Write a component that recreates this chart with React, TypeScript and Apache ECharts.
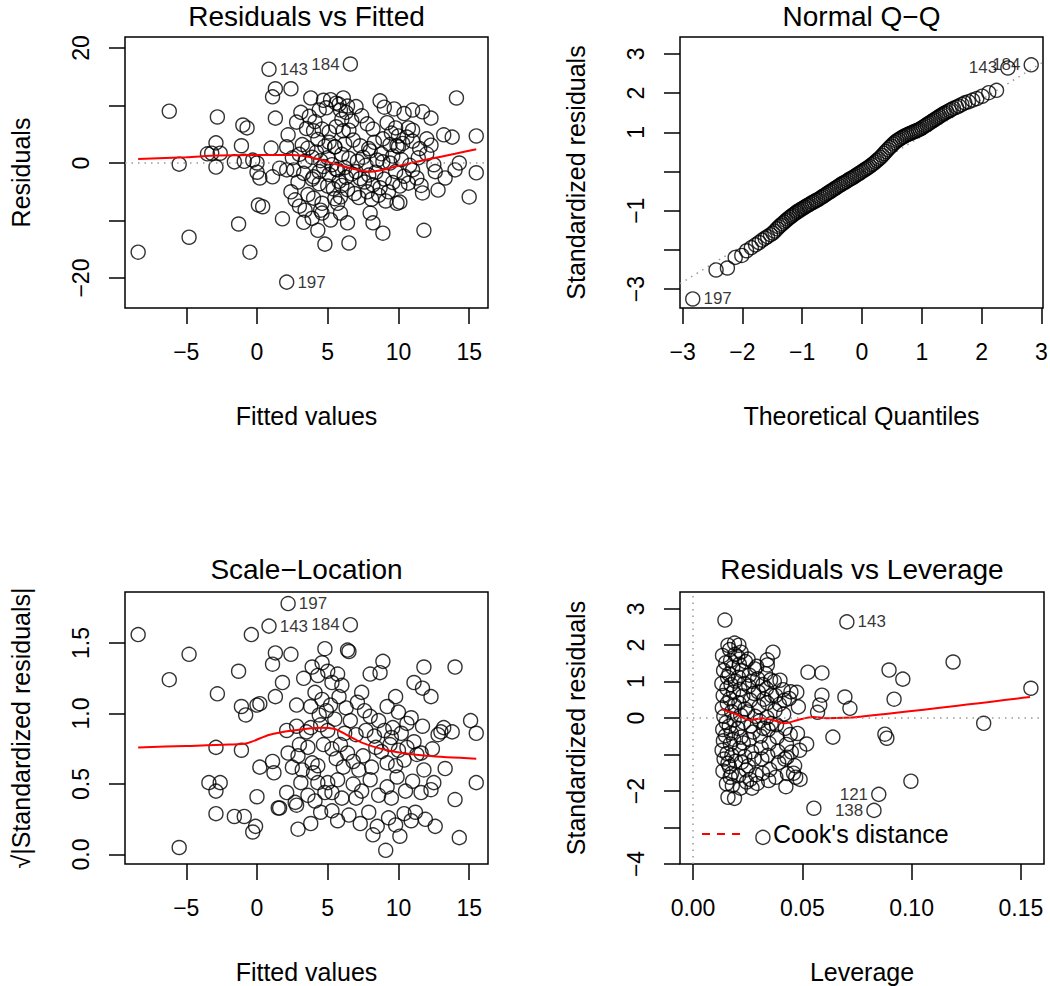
import { useEffect, useRef } from 'react';
import * as echarts from 'echarts';

const FONT = '"Liberation Sans", Arial, Helvetica, sans-serif';

// ---------- Panel 1: Residuals vs Fitted ----------
const rvfXTicks = [-5, 0, 5, 10, 15];
const rvfYTicks = [-20, -10, 0, 10, 20];
const rvfYLabels = [-20, 0, 20];
const rvfPoints: number[][] = [
  [-8.4, -15.5], [-6.2, 9.0], [-5.5, -0.2], [-4.8, -12.9], [-2.8, 8.0], [-2.9, 3.5], [-3.2, 1.7], [-2.6, 1.7], [-3.5, 1.6], [-2.9, -0.7],
  [-1.0, 6.6], [-0.7, 6.1], [-1.1, 3.0], [-1.6, 0.2], [-0.9, 0.3], [-0.3, 0.5], [0.0, 0.0], [0.0, -1.6], [0.2, -2.6], [0.1, -7.3],
  [0.4, -7.6], [-1.3, -10.6], [-0.5, -15.5],
  [1.3, 12.9], [1.1, 11.5], [2.4, 12.9], [1.3, 7.8], [2.8, 7.1], [2.2, 4.9], [2.1, 2.8], [1.0, 2.6], [1.6, -0.9], [2.1, -1.2], [2.6, -1.2],
  [1.1, -2.4], [2.9, -3.3], [1.8, -9.7], [3.3, -10.3], [3.4, -8.2],
  [3.8, 11.3], [4.7, 10.9], [5.2, 11.0], [5.6, 10.4], [4.9, 9.6], [5.9, 9.2], [6.3, 8.8], [4.4, 9.2], [3.5, 6.0], [4.0, 5.6], [4.6, 5.9],
  [5.1, 5.4], [5.6, 6.3], [6.1, 5.6], [4.3, 4.1], [3.2, 3.2], [3.6, 2.6], [4.2, 1.9], [4.8, 2.9], [5.1, 3.6], [5.5, 2.8], [3.0, 1.5],
  [3.9, 1.0], [4.5, 0.4], [5.0, 0.9], [4.7, -0.6], [5.3, -0.3], [3.3, -1.8], [4.0, -2.4], [3.9, -2.8], [4.4, -1.5], [5.1, -2.0], [5.6, -1.1],
  [3.6, -5.5], [4.6, -7.0], [4.5, -8.2], [4.6, -8.7], [4.3, -11.7], [4.8, -14.1], [5.2, -9.9], [5.4, -4.5], [5.0, -4.0], [4.4, -3.6],
  [5.8, -3.2], [5.5, -6.2],
  [8.7, 10.8], [14.1, 11.3], [11.0, 9.2], [11.7, 8.9], [12.3, 7.8], [7.4, 8.2], [8.2, 5.9], [6.5, 5.7], [6.8, 4.0], [9.2, 7.0],
  [9.8, 6.1], [10.7, 6.1], [11.0, 5.7], [8.9, 4.2], [9.4, 3.2], [9.9, 3.0], [10.3, 3.4], [10.6, 4.5], [10.0, 2.8], [11.0, 3.8],
  [11.5, 2.5], [12.0, 4.2], [12.3, 3.1], [13.2, 4.9], [13.8, 4.5], [15.5, 4.7], [5.5, 2.8], [7.5, 1.0], [8.5, 0.5], [8.9, 0.2],
  [9.4, 0.0], [12.5, -0.3], [14.3, 0.0], [14.0, -1.2], [15.5, -1.7], [13.3, -2.6], [12.8, -4.7], [11.7, -5.2], [15.0, -5.9],
  [5.7, -1.2], [6.2, -0.8], [6.7, -1.9], [7.0, -1.5], [7.3, -2.7], [7.6, -3.3], [7.9, -2.1], [8.2, -3.8], [8.4, -1.6], [8.7, -4.3],
  [9.0, -2.8], [9.3, -5.0], [9.6, -3.4], [9.8, -1.5], [10.1, -4.0], [10.4, -2.3], [10.7, -3.5], [11.0, -1.2], [11.3, -2.6], [11.6, -3.9],
  [6.0, -3.9], [6.4, -4.6], [6.9, -5.3], [7.2, -6.0], [7.8, -5.0], [8.1, -6.3], [8.6, -5.6], [9.1, -6.6], [9.9, -7.0], [10.1, -6.8],
  [8.0, -8.7], [8.2, -10.4], [8.9, -12.2], [11.8, -11.7], [6.5, -13.9], [6.4, -10.4], [5.9, -8.7], [5.7, -7.0], [5.9, -5.9], [6.3, -2.5],
  [6.0, 1.5], [6.5, 0.8], [7.1, 0.3], [7.7, -0.4], [8.0, 2.1], [8.8, 1.6], [9.6, 1.2], [10.2, 0.6], [10.8, -0.4], [11.4, 0.9],
  [12.0, 1.6], [12.6, -1.5], [7.3, 3.0], [7.9, 2.5], [6.2, 3.3], [6.7, 7.3], [7.0, 9.8], [7.8, 6.8], [8.3, 3.6], [9.0, 9.7],
  [9.7, 9.4], [10.4, 8.6], [10.0, 4.7], [9.5, 5.2], [5.8, 10.2], [6.4, 9.9], [6.1, 11.3], [6.0, 7.6],
  [3.1, 8.8], [3.7, 8.1], [4.1, 7.2], [2.4, -5.0], [2.7, -6.4], [3.0, -7.5], [3.9, -9.6], [4.0, -6.1], [2.5, 0.9], [3.4, 0.3],
];
const rvfIds: [number, number, string, string][] = [
  [0.85, 16.3, '143', 'right'], [6.6, 17.2, '184', 'left'], [2.1, -20.7, '197', 'right'],
];
const rvfSmooth: number[][] = [
  [-8.4, 0.7], [-5, 1.0], [-2.8, 1.3], [0, 1.4], [2.5, 1.4], [3.8, 1.0], [5.0, 0.2], [6.6, -0.9], [8.0, -1.5], [10, -0.5], [12, 0.6], [14, 1.6], [15.5, 2.4],
];

// ---------- Panel 2: Normal Q-Q ----------
const qqXTicks = [-3, -2, -1, 0, 1, 2, 3];
const qqYTicks = [-3, -2, -1, 0, 1, 2, 3];
const qqYLabels = [-3, -1, 1, 2, 3];
const qqPoints: number[][] = [
  [-2.44, -2.51], [-2.25, -2.46], [-2.12, -2.19], [-2.01, -2.14], [-1.93, -2.02], [-1.85, -1.94], [-1.78, -1.87], [-1.72, -1.81],
  [-1.67, -1.75], [-1.62, -1.70], [-1.58, -1.66], [-1.53, -1.61], [-1.49, -1.57], [-1.46, -1.52], [-1.42, -1.46], [-1.39, -1.41],
  [-1.36, -1.37], [-1.33, -1.33], [-1.30, -1.29], [-1.27, -1.25], [-1.24, -1.21], [-1.21, -1.17], [-1.18, -1.14], [-1.16, -1.11],
  [-1.13, -1.08], [-1.10, -1.05], [-1.08, -1.02], [-1.05, -1.00], [-1.03, -0.97], [-1.00, -0.95], [-0.97, -0.92], [-0.95, -0.90],
  [-0.92, -0.87], [-0.89, -0.85], [-0.86, -0.82], [-0.83, -0.79], [-0.80, -0.77], [-0.77, -0.74], [-0.74, -0.72], [-0.71, -0.69],
  [-0.68, -0.66], [-0.65, -0.63], [-0.62, -0.60], [-0.59, -0.57], [-0.56, -0.54], [-0.53, -0.51], [-0.50, -0.48], [-0.47, -0.45],
  [-0.44, -0.42], [-0.41, -0.39], [-0.38, -0.36], [-0.35, -0.33], [-0.32, -0.30], [-0.29, -0.28], [-0.26, -0.25], [-0.23, -0.22],
  [-0.20, -0.19], [-0.17, -0.17], [-0.14, -0.14], [-0.11, -0.11], [-0.08, -0.08], [-0.05, -0.05], [-0.02, -0.02], [0.01, 0.01],
  [0.04, 0.04], [0.07, 0.07], [0.10, 0.10], [0.13, 0.13], [0.16, 0.17], [0.19, 0.20], [0.22, 0.24], [0.25, 0.28], [0.28, 0.32],
  [0.31, 0.36], [0.34, 0.41], [0.37, 0.46], [0.40, 0.51], [0.43, 0.56], [0.46, 0.61], [0.49, 0.65], [0.52, 0.70], [0.55, 0.74],
  [0.58, 0.78], [0.61, 0.81], [0.64, 0.84], [0.67, 0.87], [0.70, 0.89], [0.73, 0.92], [0.76, 0.94], [0.79, 0.96], [0.82, 0.98],
  [0.85, 1.00], [0.88, 1.02], [0.91, 1.04], [0.94, 1.06], [0.97, 1.08], [1.00, 1.11], [1.03, 1.14], [1.06, 1.17], [1.09, 1.20],
  [1.12, 1.23], [1.15, 1.26], [1.18, 1.29], [1.21, 1.32], [1.24, 1.35], [1.27, 1.38], [1.30, 1.41], [1.33, 1.44], [1.36, 1.47],
  [1.39, 1.49], [1.42, 1.52], [1.46, 1.55], [1.49, 1.58], [1.53, 1.61], [1.58, 1.64], [1.62, 1.67], [1.67, 1.71], [1.72, 1.75],
  [1.78, 1.78], [1.85, 1.82], [1.92, 1.86], [2.01, 1.92], [2.12, 2.01], [2.25, 2.07],
];
const qqIds: [number, number, string, string][] = [
  [-2.83, -3.25, '197', 'right'], [2.44, 2.64, '143', 'left'], [2.83, 2.72, '184', 'left'],
];
const qqRefLine: number[][] = [[-3.043, -2.86], [3.027, 2.79]];

// ---------- Panel 3: Scale-Location ----------
const slXTicks = [-5, 0, 5, 10, 15];
const slYTicks = [0, 0.5, 1, 1.5];
const slPoints: number[][] = [
  [-8.4, 1.56], [-4.8, 1.42], [-6.2, 1.24], [-2.8, 1.14], [-1.3, 1.30], [-0.4, 1.56], [1.3, 1.43], [1.1, 1.35], [2.4, 1.42],
  [1.8, 1.22], [1.3, 1.12], [-1.1, 1.05], [-0.8, 0.99], [0, 1.06], [0.2, 1.07], [2.8, 1.06], [3.3, 1.25], [4.8, 1.46], [6.4, 1.45], [6.5, 1.44],
  [-2.9, 0.76], [-1.1, 0.74], [-3.4, 0.51], [-2.6, 0.51], [-2.9, 0.45], [-2.9, 0.29], [-1.6, 0.27], [-0.9, 0.27], [-0.1, 0.20], [-0.3, 0.16],
  [-5.5, 0.05], [0, 0.41], [0.2, 0.62], [1.1, 0.66], [1.2, 0.58],
  [2.1, 0.88], [2.8, 0.91], [3.5, 0.87], [3.8, 0.90], [4.5, 0.92], [5.0, 0.88], [2.2, 0.72], [2.9, 0.70], [3.2, 0.60], [3.9, 0.65],
  [4.3, 0.63], [4.0, 0.58], [3.1, 0.51], [4.3, 0.51], [5.0, 0.51], [5.7, 0.53], [2.1, 0.44], [2.7, 0.37], [2.8, 0.35], [1.6, 0.33],
  [1.5, 0.33], [4.8, 0.44], [5.3, 0.44], [6.0, 0.40], [5.3, 0.31], [5.7, 0.24],
  [3.9, 1.33], [4.3, 1.27], [4.6, 1.36], [5.0, 1.30], [5.3, 1.22], [5.7, 1.28], [6.0, 1.20], [4.1, 1.15], [4.6, 1.10], [5.2, 1.06],
  [5.8, 1.12], [6.3, 1.04], [4.4, 0.99], [4.9, 1.02], [5.5, 0.96], [3.8, 1.05], [6.2, 0.86], [5.9, 0.78], [6.4, 0.72], [5.6, 0.68], [6.1, 0.62],
  [8.9, 1.37], [8.0, 1.28], [8.7, 1.29], [11.8, 1.33], [14.0, 1.33], [11.1, 1.22], [11.7, 1.18], [12.3, 1.12], [7.4, 1.15], [9.8, 1.12],
  [9.2, 1.05], [10.0, 1.01], [15.1, 0.95], [15.5, 0.86], [13.2, 0.90], [13.0, 0.87], [13.8, 0.87], [12.8, 0.85], [11.7, 0.91], [10.9, 0.97], [10.6, 0.93],
  [8.0, 0.98], [7.6, 1.02], [8.6, 0.95], [9.0, 0.88], [9.6, 0.90], [10.2, 0.86], [9.4, 0.78], [10.0, 0.74], [10.6, 0.76], [11.1, 0.80],
  [12.4, 0.75], [13.3, 0.61], [11.6, 0.72], [11.3, 0.71], [15.5, 0.51], [14.0, 0.39], [14.3, 0.12], [9.1, 0.03], [12.5, 0.51], [12.3, 0.46],
  [11.8, 0.60], [11.6, 0.44], [11.9, 0.25], [12.6, 0.20],
  [6.5, 0.28], [7.3, 0.22], [7.9, 0.30], [8.5, 0.20], [9.3, 0.26], [9.8, 0.21], [10.4, 0.29], [10.9, 0.24], [11.2, 0.30], [8.2, 0.14], [10.1, 0.13],
  [6.8, 0.50], [7.4, 0.45], [8.0, 0.53], [8.6, 0.42], [9.2, 0.48], [9.9, 0.55], [10.5, 0.45], [11.0, 0.52], [7.0, 0.40], [9.5, 0.40],
  [6.8, 0.66], [7.5, 0.70], [8.1, 0.62], [8.8, 0.73], [9.2, 0.65], [9.8, 0.63], [10.4, 0.67], [7.2, 0.60], [8.4, 0.76], [7.0, 0.85],
  [7.7, 0.88], [8.3, 0.84], [9.5, 0.83], [6.6, 0.95], [7.1, 1.08],
  [3.0, 0.78], [3.6, 0.76], [4.7, 0.78], [5.3, 0.75], [2.5, 0.62], [3.6, 0.42], [4.5, 0.30], [3.8, 0.22], [2.9, 0.18], [4.1, 0.38],
];
const slIds: [number, number, string, string][] = [
  [2.2, 1.78, '197', 'right'], [0.85, 1.62, '143', 'right'], [6.6, 1.63, '184', 'left'],
];
const slSmooth: number[][] = [
  [-8.4, 0.76], [-5, 0.77], [-2, 0.78], [-0.7, 0.79], [0.9, 0.85], [2.6, 0.88], [4.5, 0.90], [5.5, 0.89], [6.5, 0.84], [7.5, 0.79], [9.2, 0.74], [12.0, 0.70], [15.5, 0.68],
];

// ---------- Panel 4: Residuals vs Leverage ----------
const rvlXTicks = [0, 0.05, 0.1, 0.15];
const rvlYTicks = [-4, -3, -2, -1, 0, 1, 2, 3];
const rvlYLabels = [-4, -2, 0, 1, 2, 3];
const rvlPoints: number[][] = [
  [0.0146, 2.69], [0.016, 2.0], [0.019, 2.06], [0.021, 2.0], [0.022, 1.81], [0.0366, 1.81], [0.034, 1.6], [0.034, 1.46], [0.0526, 1.26],
  [0.059, 1.24], [0.059, 0.63], [0.058, 0.36], [0.057, 0.16], [0.0695, 0.58], [0.0718, 0.27], [0.064, -0.52], [0.052, -0.71],
  [0.016, -1.24], [0.017, -1.62], [0.016, -2.17], [0.019, -2.2], [0.0553, -2.47], [0.032, -3.27], [0.0897, 1.32], [0.096, 1.07],
  [0.092, 0.52], [0.119, 1.54], [0.1546, 0.82], [0.133, -0.14], [0.0878, -0.44], [0.0887, -0.55], [0.0997, -1.73],
  [0.0135, 1.72], [0.0140, 1.31], [0.0132, 0.95], [0.0138, 0.62], [0.0134, 0.28], [0.0141, 0.05], [0.0136, -0.31], [0.0139, -0.62],
  [0.0133, -0.88], [0.0142, -1.12], [0.0137, -1.45], [0.0150, 1.52], [0.0155, 0.81], [0.0152, -0.12], [0.0158, 1.12], [0.0157, 0.41],
  [0.0149, -0.48], [0.0156, -0.97], [0.0153, -1.80],
  [0.0168, 1.88], [0.0172, 1.58], [0.0165, 1.21], [0.0174, 0.92], [0.0169, 0.53], [0.0177, 0.18], [0.0166, -0.22], [0.0175, -0.41],
  [0.0171, -0.71], [0.0178, -1.02], [0.0167, -1.33], [0.0176, -1.52], [0.0180, -1.85], [0.0182, 1.39], [0.0185, 0.71], [0.0188, -0.05],
  [0.0190, 0.35], [0.0186, -0.58], [0.0193, 1.02], [0.0195, -1.18], [0.0192, 1.75],
  [0.0205, 1.68], [0.0212, 1.48], [0.0208, 1.12], [0.0215, 0.79], [0.0210, 0.42], [0.0218, 0.08], [0.0206, -0.28], [0.0220, -0.52],
  [0.0213, -0.83], [0.0222, -1.21], [0.0209, -1.58], [0.0217, -1.92], [0.0225, 1.30], [0.0228, 0.61], [0.0232, -0.12], [0.0235, 0.95],
  [0.0230, -0.68], [0.0237, -1.05], [0.0240, 1.55], [0.0238, 0.25], [0.0243, -1.42], [0.0245, -1.75],
  [0.0252, 1.62], [0.0258, 1.18], [0.0255, 0.88], [0.0262, 0.49], [0.0250, 0.17], [0.0265, -0.21], [0.0257, -0.59], [0.0268, -0.92],
  [0.0253, -1.31], [0.0261, -1.68], [0.0270, -1.92], [0.0272, 1.01], [0.0275, -0.38], [0.0278, 0.68], [0.0280, -1.12], [0.0283, 1.35],
  [0.0285, 0.05], [0.0288, -1.55],
  [0.0292, 1.42], [0.0296, 1.08], [0.0299, 0.72], [0.0302, 0.31], [0.0305, -0.08], [0.0308, -0.49], [0.0312, -0.81], [0.0315, -1.12],
  [0.0318, -1.51], [0.0294, -1.79], [0.0320, 0.92], [0.0322, -0.28], [0.0325, 0.52],
  [0.0332, 1.22], [0.0336, 0.81], [0.0340, 0.42], [0.0338, 0.02], [0.0344, -0.31], [0.0348, -0.69], [0.0342, -1.02], [0.0351, -1.41],
  [0.0346, -1.71], [0.0355, 1.05], [0.0358, -0.15], [0.0360, 0.62],
  [0.0372, 1.01], [0.0378, 0.62], [0.0375, 0.21], [0.0382, -0.18], [0.0385, -0.52], [0.0388, -0.91], [0.0379, -1.62], [0.0392, -1.22],
  [0.0395, 0.38], [0.0398, 1.04],
  [0.0412, 0.78], [0.0418, 0.49], [0.0415, 0.11], [0.0422, -0.28], [0.0428, -0.72], [0.0420, -1.12], [0.0432, -1.52], [0.0425, -1.88],
  [0.0440, 0.54], [0.0445, -0.45], [0.0448, 0.72], [0.0475, 0.71], [0.0482, 0.31], [0.0478, -0.42], [0.0488, -0.88], [0.0465, -1.30],
  [0.0470, -1.62], [0.045, -0.93], [0.043, -1.07], [0.046, -1.51], [0.049, -1.68],
];
const rvlIds: [number, number, string, string][] = [
  [0.0704, 2.64, '143', 'right'], [0.085, -2.09, '121', 'left'], [0.0828, -2.53, '138', 'left'],
];
const rvlSmooth: number[][] = [
  [0.0131, 0.24], [0.020, 0.1], [0.026, -0.05], [0.032, 0.0], [0.037, -0.06], [0.042, -0.14], [0.048, -0.05], [0.055, 0.03], [0.061, 0.0], [0.0764, 0.04], [0.1542, 0.58],
];

const minusSign = (s: string) => s.replace(/-/g, '\u2212');

function makeXAxis(gridIndex: number, min: number, max: number, ticks: number[], labels: number[], fmt: (v: number) => string, name: string) {
  return {
    type: 'value', gridIndex, min, max,
    axisLine: { show: false, onZero: false },
    splitLine: { show: false },
    axisTick: { show: true, length: 16, inside: false, customValues: ticks, lineStyle: { color: '#000', width: 1.5 } },
    axisLabel: { show: true, customValues: labels, formatter: fmt, margin: 32, color: '#000', fontSize: 23, fontFamily: FONT, showMinLabel: true, showMaxLabel: true },
    name, nameLocation: 'middle', nameGap: 95,
    nameTextStyle: { color: '#000', fontSize: 25, fontFamily: FONT },
  };
}
function makeYAxis(gridIndex: number, min: number, max: number, ticks: number[], labels: number[], fmt: (v: number) => string, name: string) {
  return {
    type: 'value', gridIndex, min, max,
    axisLine: { show: false, onZero: false },
    splitLine: { show: false },
    axisTick: { show: true, length: 16, inside: false, customValues: ticks, lineStyle: { color: '#000', width: 1.5 } },
    axisLabel: { show: true, customValues: labels, formatter: fmt, rotate: 90, margin: 33, color: '#000', fontSize: 23, fontFamily: FONT },
    name, nameLocation: 'middle', nameGap: 92, nameRotate: 90,
    nameTextStyle: { color: '#000', fontSize: 25, fontFamily: FONT },
  };
}

const circleStyle = { color: 'rgba(0,0,0,0)', borderColor: '#000', borderWidth: 1.4 };

function scatter(i: number, pts: number[][]) {
  return {
    type: 'scatter', xAxisIndex: i, yAxisIndex: i, data: pts, symbol: 'circle', symbolSize: 14,
    itemStyle: circleStyle, silent: true, z: 2,
  };
}
function idScatter(i: number, ids: [number, number, string, string][]) {
  return {
    type: 'scatter', xAxisIndex: i, yAxisIndex: i, symbol: 'circle', symbolSize: 14,
    itemStyle: circleStyle, silent: true, z: 2,
    data: ids.map(([x, y, id, pos]) => ({
      value: [x, y],
      label: { show: true, formatter: id, position: pos, distance: 3, color: '#000', fontSize: 17, fontFamily: FONT },
    })),
  };
}
function redLine(i: number, pts: number[][]) {
  return {
    type: 'line', xAxisIndex: i, yAxisIndex: i, data: pts, showSymbol: false, symbol: 'none', smooth: 0.3,
    lineStyle: { color: '#ff0000', width: 2 }, silent: true, z: 4,
  };
}
const dotted = { color: '#9a9a9a', width: 1.5, type: [1.5, 5] as number[] };
function refLines(i: number, marks: any[]) {
  return {
    type: 'line', xAxisIndex: i, yAxisIndex: i, data: [], silent: true, z: 1,
    markLine: { silent: true, symbol: 'none', label: { show: false }, lineStyle: dotted, data: marks, animation: false },
  };
}

function titleText(x: number, y: number, text: string) {
  return {
    type: 'text', x, y, silent: true,
    style: { text, fontSize: 28, fontFamily: FONT, fill: '#000', align: 'center', verticalAlign: 'middle' },
  };
}

export default function App() {
  const ref = useRef<HTMLDivElement>(null);
  useEffect(() => {
    if (!ref.current) return;
    const chart = echarts.init(ref.current, null, { renderer: 'svg' });
    const g = (left: number, top: number, width: number, height: number) => ({
      left, top, width, height, show: true, borderColor: '#000', borderWidth: 1.5, backgroundColor: 'transparent',
      containLabel: false, outerBoundsMode: 'none',
    });
    const fmtInt = (v: number) => minusSign(String(v));
    chart.setOption({
      animation: false,
      backgroundColor: '#fff',
      textStyle: { fontFamily: FONT },
      grid: [g(125, 37, 363, 271), g(680, 37, 363, 271), g(125, 592, 363, 272), g(680, 592, 364, 272)],
      xAxis: [
        makeXAxis(0, -9.33, 16.33, rvfXTicks, rvfXTicks, fmtInt, 'Fitted values'),
        makeXAxis(1, -3.043, 3.027, qqXTicks, qqXTicks, fmtInt, 'Theoretical Quantiles'),
        makeXAxis(2, -9.33, 16.33, slXTicks, slXTicks, fmtInt, 'Fitted values'),
        makeXAxis(3, -0.00595, 0.1606, rvlXTicks, rvlXTicks, (v: number) => v.toFixed(2), 'Leverage'),
      ],
      yAxis: [
        makeYAxis(0, -25.2, 21.9, rvfYTicks, rvfYLabels, fmtInt, 'Residuals'),
        makeYAxis(1, -3.48, 3.43, qqYTicks, qqYLabels, fmtInt, 'Standardized residuals'),
        makeYAxis(2, -0.067, 1.862, slYTicks, slYTicks, (v: number) => v.toFixed(1), '\u221A|Standardized residuals|'),
        makeYAxis(3, -4.0, 3.46, rvlYTicks, rvlYLabels, fmtInt, 'Standardized residuals'),
      ],
      series: [
        refLines(0, [{ yAxis: 0 }]),
        scatter(0, rvfPoints), idScatter(0, rvfIds), redLine(0, rvfSmooth),
        {
          type: 'line', xAxisIndex: 1, yAxisIndex: 1, data: qqRefLine, showSymbol: false, symbol: 'none',
          lineStyle: dotted, silent: true, z: 1,
        },
        scatter(1, qqPoints), idScatter(1, qqIds),
        scatter(2, slPoints), idScatter(2, slIds), redLine(2, slSmooth),
        refLines(3, [{ yAxis: 0 }, { xAxis: 0 }]),
        scatter(3, rvlPoints), idScatter(3, rvlIds), redLine(3, rvlSmooth),
      ],
      graphic: [
        titleText(306.5, 16, 'Residuals vs Fitted'),
        titleText(861.5, 16, 'Normal Q\u2212Q'),
        titleText(306.5, 569, 'Scale\u2212Location'),
        titleText(862, 569, 'Residuals vs Leverage'),
        {
          type: 'line', silent: true,
          shape: { x1: 702, y1: 834, x2: 742, y2: 834 },
          style: { stroke: '#ff0000', lineWidth: 2, lineDash: [8, 7] },
        },
        {
          type: 'text', x: 773, y: 834, silent: true,
          style: { text: "Cook's distance", fontSize: 25, fontFamily: FONT, fill: '#000', align: 'left', verticalAlign: 'middle' },
        },
      ],
    });
    return () => chart.dispose();
  }, []);
  return <div ref={ref} style={{ position: 'absolute', left: 0, top: 0, width: 1050, height: 986, background: '#fff' }} />;
}
